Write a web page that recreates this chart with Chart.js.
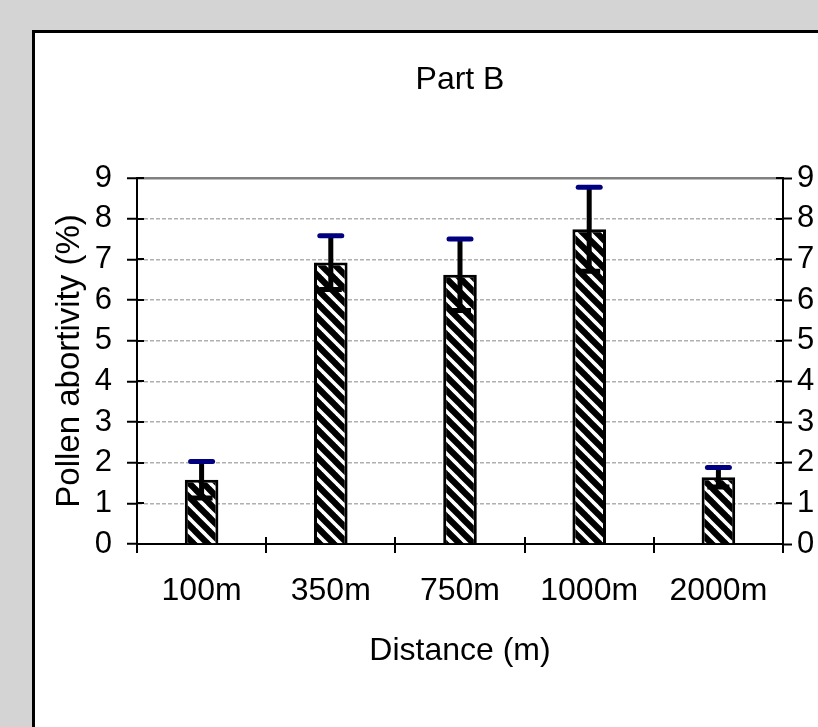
<!DOCTYPE html>
<html lang="en">
  <head>
    <meta charset="UTF-8" />
    <title>Part B</title>
    <script src="https://cdn.jsdelivr.net/npm/chart.js"></script>
    <style>
      html, body {
        margin: 0;
        padding: 0;
        background: #d4d4d4;
        overflow: hidden;
      }
      #panel {
        position: absolute;
        left: 32px;
        top: 30px;
        width: 900px;
        height: 800px;
        background: #ffffff;
        border: 3px solid #000000;
      }
      #myChart {
        position: absolute;
        left: 0;
        top: 0;
      }
    </style>
  </head>
  <body>
    <div id="panel"></div>
    <canvas id="myChart" width="818" height="727"></canvas>
    <script>
      const distances = ["100m", "350m", "750m", "1000m", "2000m"];
      const abortivity = [1.58, 6.92, 6.62, 7.74, 1.64];
      const errors = [0.45, 0.66, 0.88, 1.03, 0.24];
      const yTicks = [0, 1, 2, 3, 4, 5, 6, 7, 8, 9];

      const FONT = "'Liberation Sans', Arial, sans-serif";

      // wide downward diagonal hatch, like the Excel fill
      function makeHatch() {
        const s = 14;
        const c = document.createElement("canvas");
        c.width = s;
        c.height = s;
        const g = c.getContext("2d");
        g.fillStyle = "#ffffff";
        g.fillRect(0, 0, s, s);
        g.strokeStyle = "#000000";
        g.lineWidth = 6.2;
        for (let k = -1; k <= 1; k++) {
          g.beginPath();
          g.moveTo(k * s - 2, -2);
          g.lineTo(k * s + s + 2, s + 2);
          g.stroke();
        }
        return g.createPattern(c, "repeat");
      }

      // ticks cross the axis lines, so draw the inner halves
      const innerTicks = {
        id: "innerTicks",
        afterDraw(chart) {
          const { ctx, chartArea, scales } = chart;
          ctx.save();
          ctx.strokeStyle = "#000000";
          ctx.lineWidth = 2;
          ctx.beginPath();
          yTicks.forEach(function (v) {
            const py = Math.round(scales.y.getPixelForValue(v));
            ctx.moveTo(chartArea.left, py);
            ctx.lineTo(chartArea.left + 7, py);
            ctx.moveTo(chartArea.right - 7, py);
            ctx.lineTo(chartArea.right, py);
          });
          for (let i = 0; i <= distances.length; i++) {
            const px = Math.round(scales.x.getPixelForValue(i - 0.5));
            ctx.moveTo(px, chartArea.bottom);
            ctx.lineTo(px, chartArea.bottom - 7);
          }
          ctx.stroke();
          ctx.restore();
        },
      };

      const errorBars = {
        id: "errorBars",
        afterDatasetsDraw(chart) {
          const { ctx, scales } = chart;
          const meta = chart.getDatasetMeta(0);
          ctx.save();
          meta.data.forEach(function (bar, i) {
            const x = bar.x;
            const top = scales.y.getPixelForValue(abortivity[i] + errors[i]);
            const bot = scales.y.getPixelForValue(abortivity[i] - errors[i]);
            const half = 11;
            ctx.strokeStyle = "#000000";
            ctx.lineWidth = 5;
            ctx.beginPath();
            ctx.moveTo(x, top);
            ctx.lineTo(x, bot);
            ctx.moveTo(x - half, bot);
            ctx.lineTo(x + half, bot);
            ctx.stroke();
            ctx.strokeStyle = "#000080";
            ctx.lineWidth = 5;
            ctx.lineCap = "round";
            ctx.beginPath();
            ctx.moveTo(x - half, top);
            ctx.lineTo(x + half, top);
            ctx.stroke();
            ctx.lineCap = "butt";
          });
          ctx.restore();
        },
      };

      const ctx = document.getElementById("myChart").getContext("2d");

      new Chart(ctx, {
        type: "bar",
        data: {
          labels: distances,
          datasets: [
            {
              label: "Pollen abortivity",
              data: abortivity,
              backgroundColor: makeHatch(),
              borderColor: "#000000",
              borderWidth: 3,
              barPercentage: 0.26,
              categoryPercentage: 1,
            },
          ],
        },
        options: {
          responsive: false,
          animation: false,
          layout: { padding: 0 },
          plugins: {
            legend: { display: false },
            tooltip: { enabled: false },
            title: {
              display: true,
              fullSize: false,
              text: "Part B",
              color: "#000000",
              font: { family: FONT, size: 32, weight: "normal", lineHeight: 1.2 },
              padding: { top: 61, bottom: 78.6 },
            },
          },
          scales: {
            x: {
              afterFit: function (s) {
                s.height = 183;
              },
              grid: {
                drawOnChartArea: false,
                drawTicks: true,
                tickLength: 9,
                color: "#000000",
                lineWidth: 2,
              },
              border: { display: true, color: "#000000", width: 2 },
              ticks: {
                color: "#000000",
                padding: 19,
                font: { family: FONT, size: 32 },
              },
              title: {
                display: true,
                text: "Distance (m)",
                color: "#000000",
                font: { family: FONT, size: 32 },
                padding: { top: 0, bottom: 57 },
              },
            },
            y: {
              position: "left",
              min: 0,
              max: 9,
              afterFit: function (s) {
                s.width = 137;
              },
              afterBuildTicks: function (s) {
                s.ticks = yTicks.map(function (v) {
                  return { value: v };
                });
              },
              grid: {
                color: function (c) {
                  if (!c.tick || c.tick.value === 0) return "rgba(0,0,0,0)";
                  return c.tick.value === 9 ? "#808080" : "#b0b0b0";
                },
                lineWidth: function (c) {
                  return c.tick && c.tick.value === 9 ? 2.5 : 1.5;
                },
                tickColor: "#000000",
                tickWidth: 2,
                tickLength: 10,
              },
              border: {
                display: true,
                color: "#000000",
                width: 2,
                dash: function (c) {
                  return c.tick && c.tick.value !== 9 ? [4, 2] : [];
                },
              },
              ticks: {
                color: "#000000",
                padding: 15,
                font: { family: FONT, size: 31 },
              },
              title: {
                display: true,
                text: "Pollen abortivity (%)",
                color: "#000000",
                font: { family: FONT, size: 33 },
                padding: { top: 50, bottom: 0 },
              },
            },
            y2: {
              position: "right",
              min: 0,
              max: 9,
              afterFit: function (s) {
                s.width = 35;
              },
              afterBuildTicks: function (s) {
                s.ticks = yTicks.map(function (v) {
                  return { value: v };
                });
              },
              grid: {
                drawOnChartArea: false,
                tickColor: "#000000",
                tickWidth: 2,
                tickLength: 9,
              },
              border: { display: true, color: "#000000", width: 2 },
              ticks: {
                color: "#000000",
                padding: 5,
                font: { family: FONT, size: 31 },
              },
            },
          },
        },
        plugins: [errorBars, innerTicks],
      });
    </script>
  </body>
</html>
